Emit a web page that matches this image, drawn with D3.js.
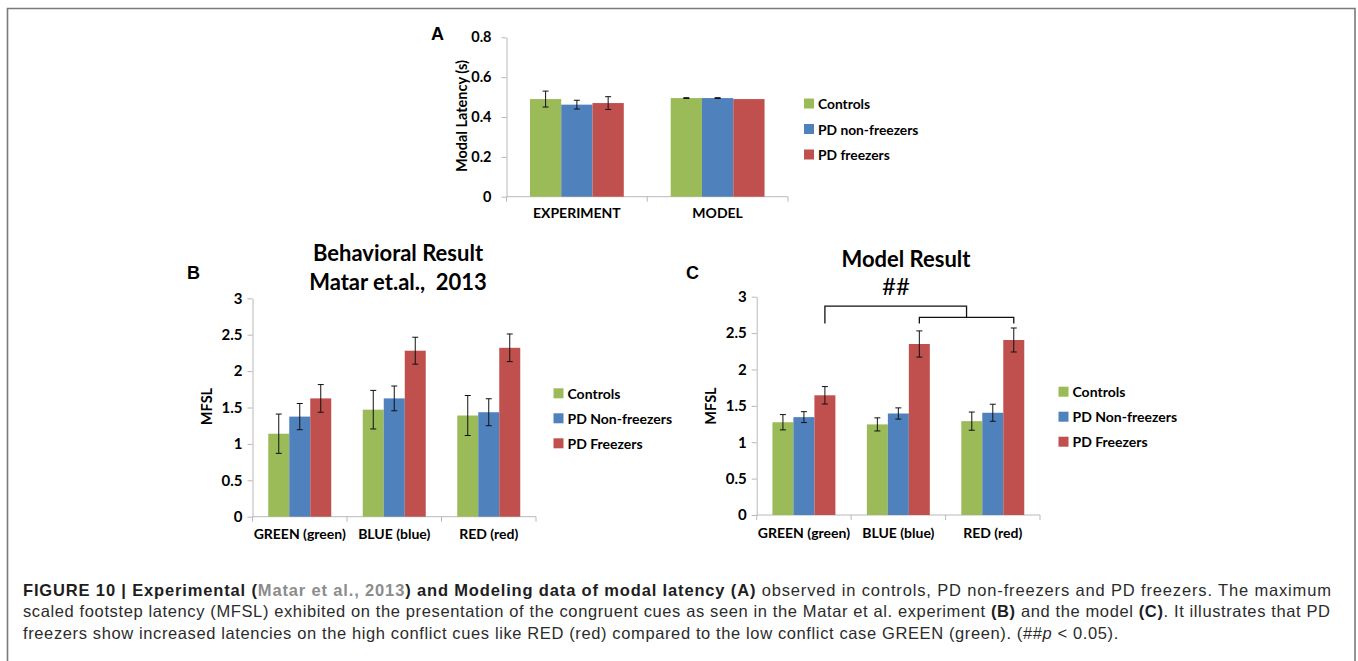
<!DOCTYPE html>
<html>
<head>
<meta charset="utf-8">
<script src="https://cdn.jsdelivr.net/npm/d3@7"></script>
<style>
  html, body { margin: 0; padding: 0; background: #ffffff; }
  svg { display: block; }
  .chart text { font-family: "Lato", "Open Sans", sans-serif; font-weight: 700; fill: #000; }
  .caption text { font-family: "Liberation Sans", Arial, sans-serif; font-size: 16.5px; fill: #2b2b2b; }
</style>
</head>
<body>
<svg id="fig" width="1358" height="661"></svg>
<script>
// ---------------- DATA ----------------
const seriesA = ["Controls", "PD non-freezers", "PD freezers"];
const seriesBC = ["Controls", "PD Non-freezers", "PD Freezers"];
const seriesColors = ["#9bbb59", "#4f81bd", "#c0504d"];

const categoriesA = ["EXPERIMENT", "MODEL"];
const aControls = [0.490, 0.495];
const aNonFreezers = [0.462, 0.495];
const aFreezers = [0.470, 0.490];
const aControlsErr = [0.040, 0.002];
const aNonFreezersErr = [0.022, 0.002];
const aFreezersErr = [0.032, 0.000];
const ticksA = [0, 0.2, 0.4, 0.6, 0.8];

const categoriesBC = ["GREEN (green)", "BLUE (blue)", "RED (red)"];
const bControls = [1.14, 1.47, 1.39];
const bNonFreezers = [1.375, 1.625, 1.435];
const bFreezers = [1.625, 2.28, 2.32];
const bControlsErr = [0.27, 0.265, 0.275];
const bNonFreezersErr = [0.18, 0.17, 0.185];
const bFreezersErr = [0.19, 0.185, 0.19];

const cControls = [1.275, 1.245, 1.29];
const cNonFreezers = [1.345, 1.395, 1.405];
const cFreezers = [1.645, 2.35, 2.405];
const cControlsErr = [0.105, 0.09, 0.125];
const cNonFreezersErr = [0.075, 0.077, 0.117];
const cFreezersErr = [0.12, 0.18, 0.165];
const ticksBC = [0, 0.5, 1, 1.5, 2, 2.5, 3];

// significance bracket levels (data units) in panel C
const bracketUpper = 2.87, bracketLower = 2.715, bracketLegEnd = 2.63;

// ---------------- DRAWING ----------------
const svg = d3.select("#fig");

// outer frame
svg.append("path")
  .attr("d", "M7.5,670 L7.5,8.5 L1355,8.5 L1355,670")
  .attr("fill", "none").attr("stroke", "#7a7a7a").attr("stroke-width", 1.6);

const chart = svg.append("g").attr("class", "chart");

function drawPanel(o) {
  const g = chart.append("g");
  const y = d3.scaleLinear().domain([0, o.yMax]).range([o.y0, o.yTop]);
  const x = d3.scaleBand().domain(o.categories).range([o.xLeft, o.xRight]);
  const xs = d3.scaleBand().domain(o.series).range([0, x.bandwidth()])
    .paddingInner(0).paddingOuter(0.75);

  // y axis
  const yAxis = d3.axisLeft(y).tickValues(o.ticks).tickSize(5).tickSizeOuter(0)
    .tickPadding(o.tickPad).tickFormat(o.fmt);
  const ya = g.append("g").attr("transform", `translate(${o.xLeft},0)`).call(yAxis);
  ya.select(".domain").attr("stroke", "#b8b8b8");
  ya.selectAll(".tick line").attr("stroke", "#b8b8b8");
  ya.selectAll(".tick text").attr("font-size", o.tickFont).style("font-size", o.tickFont + "px")
    .attr("fill", "#000");

  // x axis
  const xa = g.append("g");
  xa.append("line").attr("x1", o.xLeft).attr("x2", o.xRight)
    .attr("y1", y(0)).attr("y2", y(0)).attr("stroke", "#b8b8b8");
  const bounds = o.categories.map(c => x(c)).concat([o.xRight]);
  xa.selectAll("line.bt").data(bounds).join("line").attr("class", "bt")
    .attr("x1", d => d).attr("x2", d => d)
    .attr("y1", y(0)).attr("y2", y(0) + 5).attr("stroke", "#b8b8b8");
  xa.selectAll("text.cat").data(o.categories).join("text").attr("class", "cat")
    .attr("x", d => x(d) + x.bandwidth() / 2).attr("y", o.catY)
    .attr("text-anchor", "middle").attr("font-size", o.catFont).text(d => d);

  // bars
  o.series.forEach((s, i) => {
    const vals = o.values[i], errs = o.errors[i];
    const sg = g.append("g");
    sg.selectAll("rect").data(o.categories).join("rect")
      .attr("x", (c) => x(c) + xs(s))
      .attr("width", xs.bandwidth())
      .attr("y", (c, j) => y(vals[j]))
      .attr("height", (c, j) => y(0) - y(vals[j]))
      .attr("fill", seriesColors[i]);
    o.categories.forEach((c, j) => {
      if (!errs[j]) return;
      const cx = x(c) + xs(s) + xs.bandwidth() / 2;
      const t = y(vals[j] + errs[j]), b = y(vals[j] - errs[j]);
      const eg = sg.append("g").attr("stroke", "#111").attr("stroke-width", 1);
      eg.append("line").attr("x1", cx).attr("x2", cx).attr("y1", t).attr("y2", b);
      eg.append("line").attr("x1", cx - 3).attr("x2", cx + 3).attr("y1", t).attr("y2", t);
      eg.append("line").attr("x1", cx - 3).attr("x2", cx + 3).attr("y1", b).attr("y2", b);
    });
  });

  // y title
  g.append("text")
    .attr("transform", `translate(${o.yTitleX},${o.yTitleY}) rotate(-90)`)
    .attr("text-anchor", "middle").attr("dominant-baseline", "central")
    .attr("font-size", o.yTitleFont).text(o.yTitle);

  // legend
  const lg = g.append("g");
  o.series.forEach((s, i) => {
    const cy = o.legY + i * o.legStep;
    lg.append("rect").attr("x", o.legX).attr("y", cy - 5).attr("width", 10).attr("height", 10)
      .attr("fill", seriesColors[i]);
    lg.append("text").attr("x", o.legX + 14).attr("y", cy).attr("dominant-baseline", "central")
      .attr("font-size", o.legFont).text(s);
  });

  // panel letter
  g.append("text").attr("x", o.letterX).attr("y", o.letterY)
    .attr("font-size", 18).style("font-family", "'Liberation Sans', Arial, sans-serif")
    .text(o.letter);

  return { g, x, y, xs };
}

// Panel A
drawPanel({
  categories: categoriesA, series: seriesA,
  values: [aControls, aNonFreezers, aFreezers],
  errors: [aControlsErr, aNonFreezersErr, aFreezersErr],
  yMax: 0.8, ticks: ticksA, fmt: d => d === 0 ? "0" : d.toFixed(1),
  xLeft: 506.5, xRight: 788, y0: 196.7, yTop: 37.3,
  tickPad: 10, tickFont: 14.5, catFont: 14, catY: 218,
  yTitle: "Modal Latency (s)", yTitleX: 461, yTitleY: 116, yTitleFont: 14.5,
  legX: 804, legY: 103.5, legStep: 25.5, legFont: 13.8,
  letter: "A", letterX: 431, letterY: 39.5
});

// Panel B
drawPanel({
  categories: categoriesBC, series: seriesBC,
  values: [bControls, bNonFreezers, bFreezers],
  errors: [bControlsErr, bNonFreezersErr, bFreezersErr],
  yMax: 3, ticks: ticksBC, fmt: d => String(d),
  xLeft: 252.5, xRight: 536, y0: 516.7, yTop: 298.3,
  tickPad: 5, tickFont: 15, catFont: 14, catY: 539,
  yTitle: "MFSL", yTitleX: 206, yTitleY: 406.5, yTitleFont: 14.5,
  legX: 553.5, legY: 393.3, legStep: 25, legFont: 14,
  letter: "B", letterX: 187, letterY: 278.5
});
chart.append("text").attr("x", 398).attr("y", 261).attr("text-anchor", "middle")
  .style("font-size", "22px").text("Behavioral Result");
chart.append("text").attr("x", 398).attr("y", 289.5).attr("text-anchor", "middle")
  .style("font-size", "22px").style("white-space", "pre").text("Matar et.al.,  2013");

// Panel C
const pc = drawPanel({
  categories: categoriesBC, series: seriesBC,
  values: [cControls, cNonFreezers, cFreezers],
  errors: [cControlsErr, cNonFreezersErr, cFreezersErr],
  yMax: 3, ticks: ticksBC, fmt: d => String(d),
  xLeft: 756.7, xRight: 1040, y0: 515, yTop: 296.7,
  tickPad: 5, tickFont: 15, catFont: 14, catY: 538,
  yTitle: "MFSL", yTitleX: 710, yTitleY: 406, yTitleFont: 14.5,
  legX: 1058.5, legY: 391.7, legStep: 25, legFont: 14,
  letter: "C", letterX: 686, letterY: 279
});
chart.append("text").attr("x", 906).attr("y", 266.5).attr("text-anchor", "middle")
  .style("font-size", "22px").text("Model Result");
chart.append("text").attr("x", 896).attr("y", 295).attr("text-anchor", "middle")
  .style("font-size", "24px").style("font-weight", 400).text("##");

// significance bracket: GREEN freezers vs (BLUE freezers, RED freezers)
{
  const { x, y, xs } = pc;
  const fz = seriesBC[2];
  const cxOf = c => x(c) + xs(fz) + xs.bandwidth() / 2;
  const xg = cxOf(categoriesBC[0]), xb = cxOf(categoriesBC[1]), xr = cxOf(categoriesBC[2]);
  const xm = (xb + xr) / 2;
  const bg = chart.append("g").attr("fill", "none").attr("stroke", "#111").attr("stroke-width", 1.3);
  bg.append("path").attr("d",
    `M${xg},${y(bracketLegEnd)} L${xg},${y(bracketUpper)} L${xm},${y(bracketUpper)} L${xm},${y(bracketLower)}`);
  bg.append("path").attr("d",
    `M${xb},${y(bracketLegEnd)} L${xb},${y(bracketLower)} L${xr},${y(bracketLower)} L${xr},${y(bracketLegEnd)}`);
}

// ---------------- CAPTION ----------------
const cap = svg.append("g").attr("class", "caption");
const lines = [
  [["FIGURE 10 | Experimental (", "b"], ["Matar et al., 2013", "bl"], [") and Modeling data of modal latency (A)", "b"],
   [" observed in controls, PD non-freezers and PD freezers. The maximum", "r"]],
  [["scaled footstep latency (MFSL) exhibited on the presentation of the congruent cues as seen in the Matar et al. experiment ", "r"],
   ["(B)", "b"], [" and the model ", "r"], ["(C)", "b"], [". It illustrates that PD", "r"]],
  [["freezers show increased latencies on the high conflict cues like RED (red) compared to the low conflict case GREEN (green). (", "r"],
   ["##", "r"], ["p", "i"], [" < 0.05).", "r"]]
];
const baselines = [595.5, 617, 638.5];
const targets = [1331, 1330, null];
let lastSpacing = 0;
lines.forEach((parts, li) => {
  const t = cap.append("text").attr("x", 23).attr("y", baselines[li]).style("white-space", "pre");
  parts.forEach(([s, k]) => {
    const ts = t.append("tspan").text(s);
    if (k === "b" || k === "bl") ts.attr("font-weight", 700).attr("fill", "#1e1e1e");
    if (k === "bl") ts.attr("fill", "#8c8c8c");
    if (k === "i") ts.attr("font-style", "italic");
  });
  const n = parts.map(p => p[0]).join("").length;
  let sp = lastSpacing;
  if (targets[li]) {
    const w = t.node().getComputedTextLength();
    sp = (targets[li] - 23 - w) / (n - 1);
  }
  t.style("letter-spacing", sp + "px");
  lastSpacing = sp;
});
</script>
</body>
</html>
